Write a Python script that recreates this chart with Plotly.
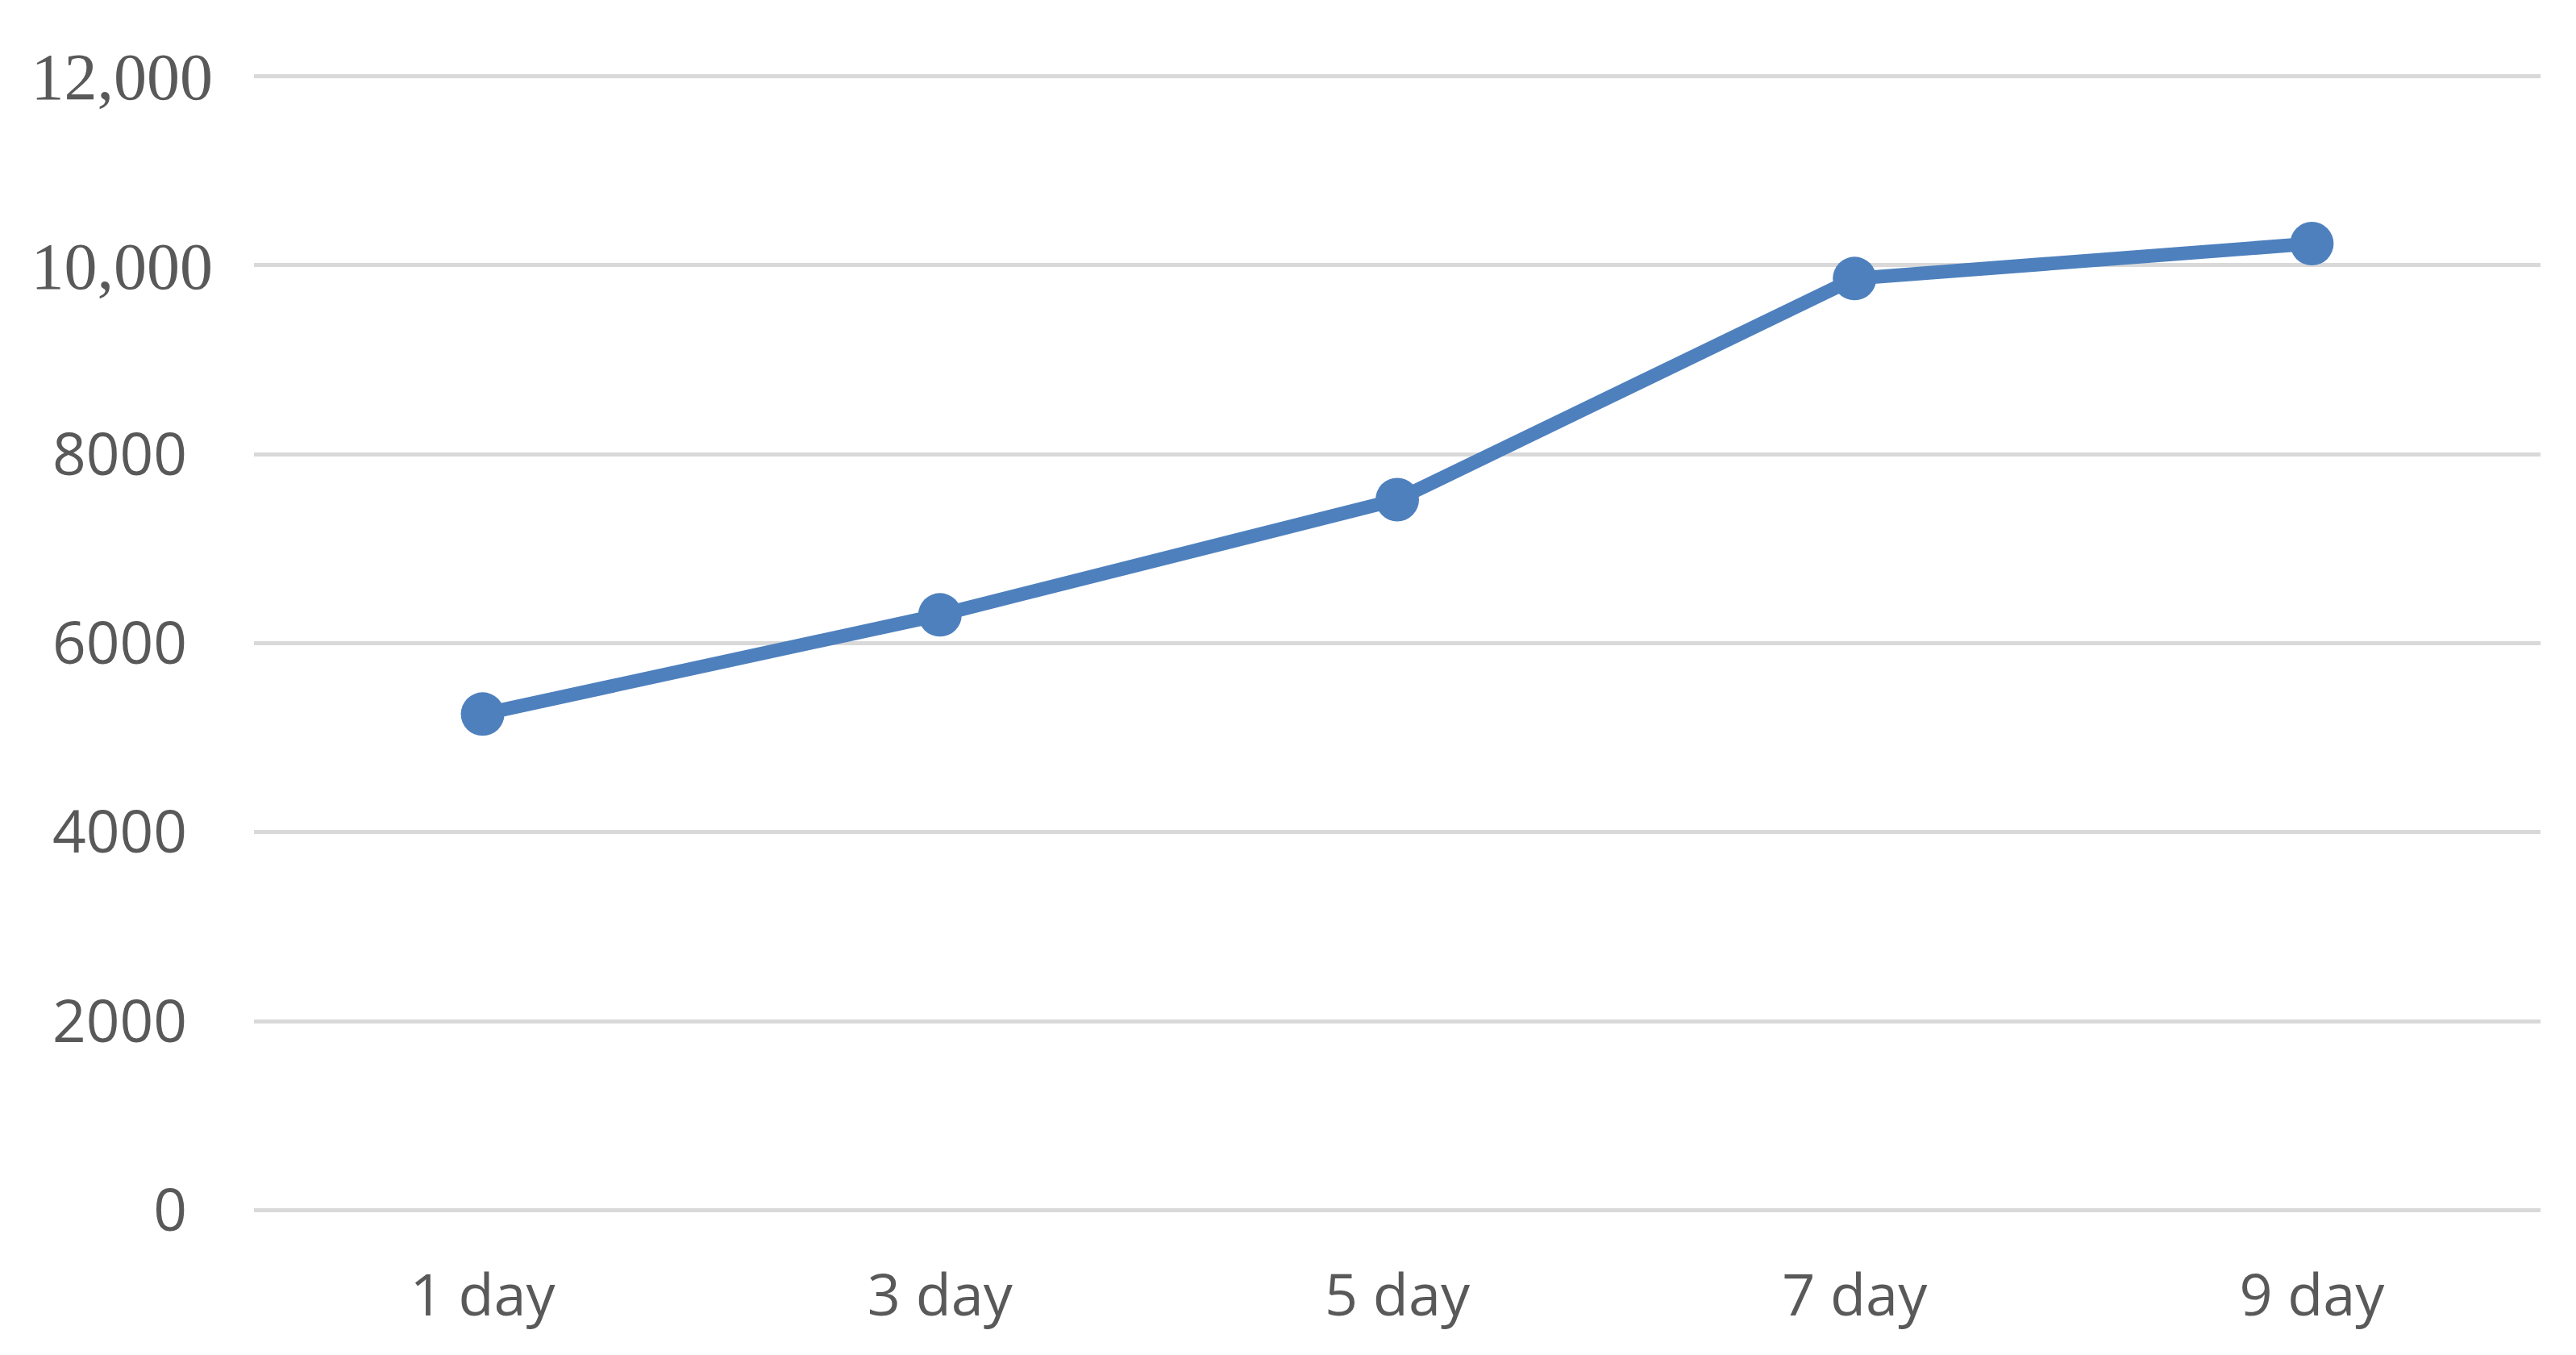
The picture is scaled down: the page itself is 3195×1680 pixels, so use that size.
import plotly.graph_objects as go

categories = ["1 day", "3 day", "5 day", "7 day", "9 day"]
values = [5250, 6300, 7520, 9860, 10230]

sans_ticks = [0, 2000, 4000, 6000, 8000]
sans_labels = ["0", "2000", "4000", "6000", "8000"]
serif_ticks = [10000, 12000]
serif_labels = ["10,000", "12,000"]

LINE = "#4E80BD"
TXT = "#595959"
GRID = "#D9D9D9"

fig = go.Figure()
# invisible trace to activate y2
fig.add_trace(go.Scatter(
    x=categories, y=values, mode="lines", line=dict(width=0),
    opacity=0, showlegend=False, hoverinfo="skip", yaxis="y2",
))
fig.add_trace(go.Scatter(
    x=categories, y=values, mode="lines+markers",
    line=dict(color=LINE, width=17),
    marker=dict(color=LINE, size=54),
    showlegend=False, yaxis="y",
))

yr = [-100, 12100]
fig.update_layout(
    width=3195, height=1680,
    margin=dict(l=307, r=52, t=75, b=176),
    paper_bgcolor="white", plot_bgcolor="white",
    xaxis=dict(
        type="category", range=[-0.5, 4.5],
        showgrid=False, zeroline=False, showline=False, ticks="",
        tickfont=dict(family="Open Sans", size=72, color=TXT),
        ticklabelstandoff=46,
    ),
    yaxis=dict(
        range=yr, tickmode="array", tickvals=sans_ticks, ticktext=sans_labels,
        showgrid=True, gridcolor=GRID, gridwidth=5, zeroline=False, showline=False,
        ticks="", tickfont=dict(family="Open Sans", size=73, color=TXT),
        ticklabelstandoff=82,
    ),
    yaxis2=dict(
        range=yr, overlaying="y", side="left", tickmode="array",
        tickvals=serif_ticks, ticktext=serif_labels,
        showgrid=True, gridcolor=GRID, gridwidth=5, zeroline=False, showline=False,
        ticks="", tickfont=dict(family="Liberation Serif", size=82, color=TXT),
        ticklabelstandoff=50,
    ),
)

fig.write_html("out.html")
